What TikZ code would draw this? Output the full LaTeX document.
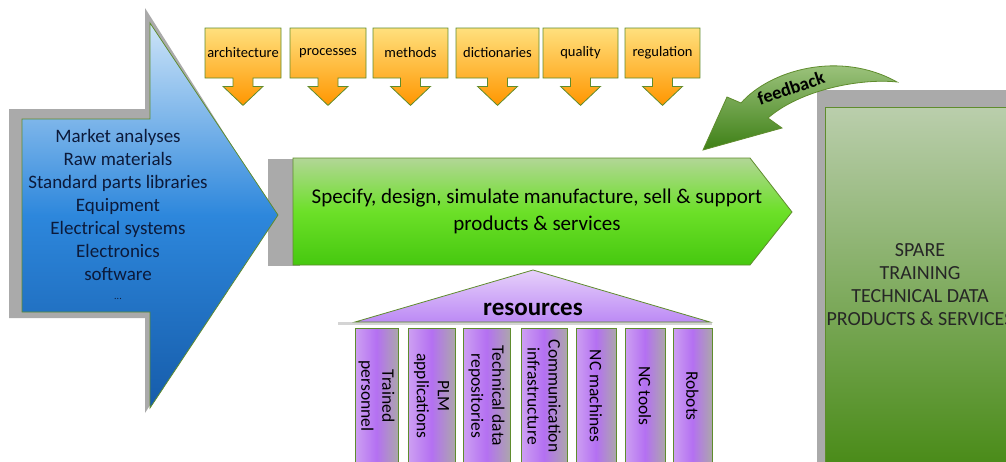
\documentclass[tikz,border=0pt]{standalone}
\usepackage{fontspec}
\setmainfont{Carlito}
\usepackage{tikz}
\usetikzlibrary{shapes.arrows}
\definecolor{edgegreen}{RGB}{95,140,45}
\definecolor{shadowgray}{RGB}{170,170,170}
\definecolor{bluetop}{RGB}{205,228,248}
\definecolor{bluemid}{RGB}{45,135,220}
\definecolor{bluebot}{RGB}{22,92,170}
\definecolor{orangetop}{RGB}{255,224,125}
\definecolor{orangebot}{RGB}{255,150,0}
\definecolor{greentop}{RGB}{178,214,150}
\definecolor{greenmid}{RGB}{108,224,40}
\definecolor{greenbot}{RGB}{70,200,15}
\definecolor{darktop}{RGB}{186,206,172}
\definecolor{darkbot}{RGB}{72,138,22}
\definecolor{liltop}{RGB}{230,208,250}
\definecolor{lilbot}{RGB}{188,138,245}
\definecolor{lilleft}{RGB}{205,160,242}
\definecolor{lilmid}{RGB}{180,112,242}
\definecolor{lilright}{RGB}{172,166,172}
\definecolor{fbtop}{RGB}{172,206,142}
\definecolor{fbbot}{RGB}{62,128,22}
\definecolor{navytext}{RGB}{12,26,58}

\begin{document}
\begin{tikzpicture}[x=1pt,y=-1pt]
\tikzset{
  outline/.style={draw=edgegreen, line width=0.8pt},
  downbox/.style={shape=arrow box, outline, top color=orangetop, bottom color=orangebot,
    minimum width=76pt, minimum height=50pt, inner sep=1pt, font=\fontsize{14.5}{16}\selectfont,
    arrow box arrows={south:27pt}, arrow box shaft width=20pt, arrow box head extend=10pt,
    arrow box tip angle=93},
  pillar/.style={rectangle, outline, left color=lilleft, right color=lilright, middle color=lilmid,
    minimum height=140pt, anchor=north, inner sep=0pt},
  pillartext/.style={rotate=-90, align=center, font=\fontsize{17.5}{21}\selectfont},
  bigtext/.style={align=center, font=\fontsize{19}{23}\selectfont}
}
\useasboundingbox (0,0) rectangle (1006,461);

% shadows
\fill[shadowgray] (9,109) -- (145,109) -- (145,8) -- (274,212) -- (145,413) -- (145,318) -- (9,318) -- cycle;
\fill[shadowgray] (268,159) rectangle (300,266);
\fill[shadowgray] (817,90) rectangle (1010,470);
\fill[shadowgray!50] (338,322) rectangle (712,325);

% inputs
\draw[outline, top color=bluetop, bottom color=bluebot, middle color=bluemid]
  (22,119) -- (150,119) -- (150,23) -- (278,215) -- (150,408) -- (150,312) -- (22,312) -- cycle;
\node[bigtext, text=navytext] (inputs) at (118,214)
  {Market analyses\\Raw materials\\Standard parts libraries\\Equipment\\Electrical systems\\Electronics\\software\\[-4pt]{\fontsize{10}{10}\selectfont ...}};

% process
\draw[outline, top color=greentop, bottom color=greenbot, middle color=greenmid]
  (293,158) -- (750,158) -- (792,212) -- (750,265) -- (293,265) -- cycle;
\node[align=center, font=\fontsize{21}{27}\selectfont] (process) at (537,211)
  {Specify, design, simulate manufacture, sell \& support\\products \& services};

% controls
\node[downbox] (arch) at (243,53) {architecture};
\node[downbox] (proc) at (328,53) {processes};
\node[downbox, minimum width=75pt] (meth) at (410.5,53) {methods};
\node[downbox, minimum width=83pt] (dict) at (497.5,53) {dictionaries};
\node[downbox, minimum width=75pt] (qual) at (580.5,53) {quality};
\node[downbox, minimum width=75pt] (regu) at (662.5,53) {regulation};

% feedback
\draw[outline, top color=fbtop, bottom color=fbbot]
  (703,150) -- (727,97) -- (741,103) .. controls (770,70) and (840,50) .. (897,82)
  .. controls (860,78) and (800,90) .. (768,118) -- (782,128) -- cycle;
\node[rotate=19, font=\fontsize{18.5}{20}\selectfont\bfseries] (fb) at (791,88) {feedback};

% outputs
\fill[top color=darktop, bottom color=darkbot] (825,107) rectangle (1010,470);
\draw[outline] (1010,107) -- (825,107) -- (825,470);
\node[bigtext, font=\fontsize{20}{23}\selectfont, text=black!85] (outputs) at (920,285)
  {SPARE\\TRAINING\\TECHNICAL DATA\\PRODUCTS \& SERVICES};

% resources
\draw[outline, top color=liltop, bottom color=lilbot] (355,322) -- (533,270) -- (710,322) -- cycle;
\node[font=\fontsize{25}{27}\selectfont\bfseries] (res) at (533,309) {resources};
\node[pillar, minimum width=43pt] (p1) at (376.5,328) {};
\node[pillar, minimum width=47pt] (p2) at (431.5,328) {};
\node[pillar, minimum width=47pt] (p3) at (486.5,328) {};
\node[pillar, minimum width=46pt] (p4) at (544,328) {};
\node[pillar, minimum width=40pt] (p5) at (596,328) {};
\node[pillar, minimum width=40pt] (p6) at (645,328) {};
\node[pillar, minimum width=39pt] (p7) at (692.5,328) {};
\node[pillartext] (t1) at (376.5,396) {Trained\\personnel};
\node[pillartext] (t2) at (431.5,396) {PLM\\applications};
\node[pillartext] (t3) at (486.5,396) {Technical data\\repositories};
\node[pillartext] (t4) at (544,396) {Communication\\infrastructure};
\node[pillartext] (t5) at (596,396) {NC machines};
\node[pillartext] (t6) at (645,396) {NC tools};
\node[pillartext] (t7) at (692.5,396) {Robots};

\end{tikzpicture}
\end{document}
